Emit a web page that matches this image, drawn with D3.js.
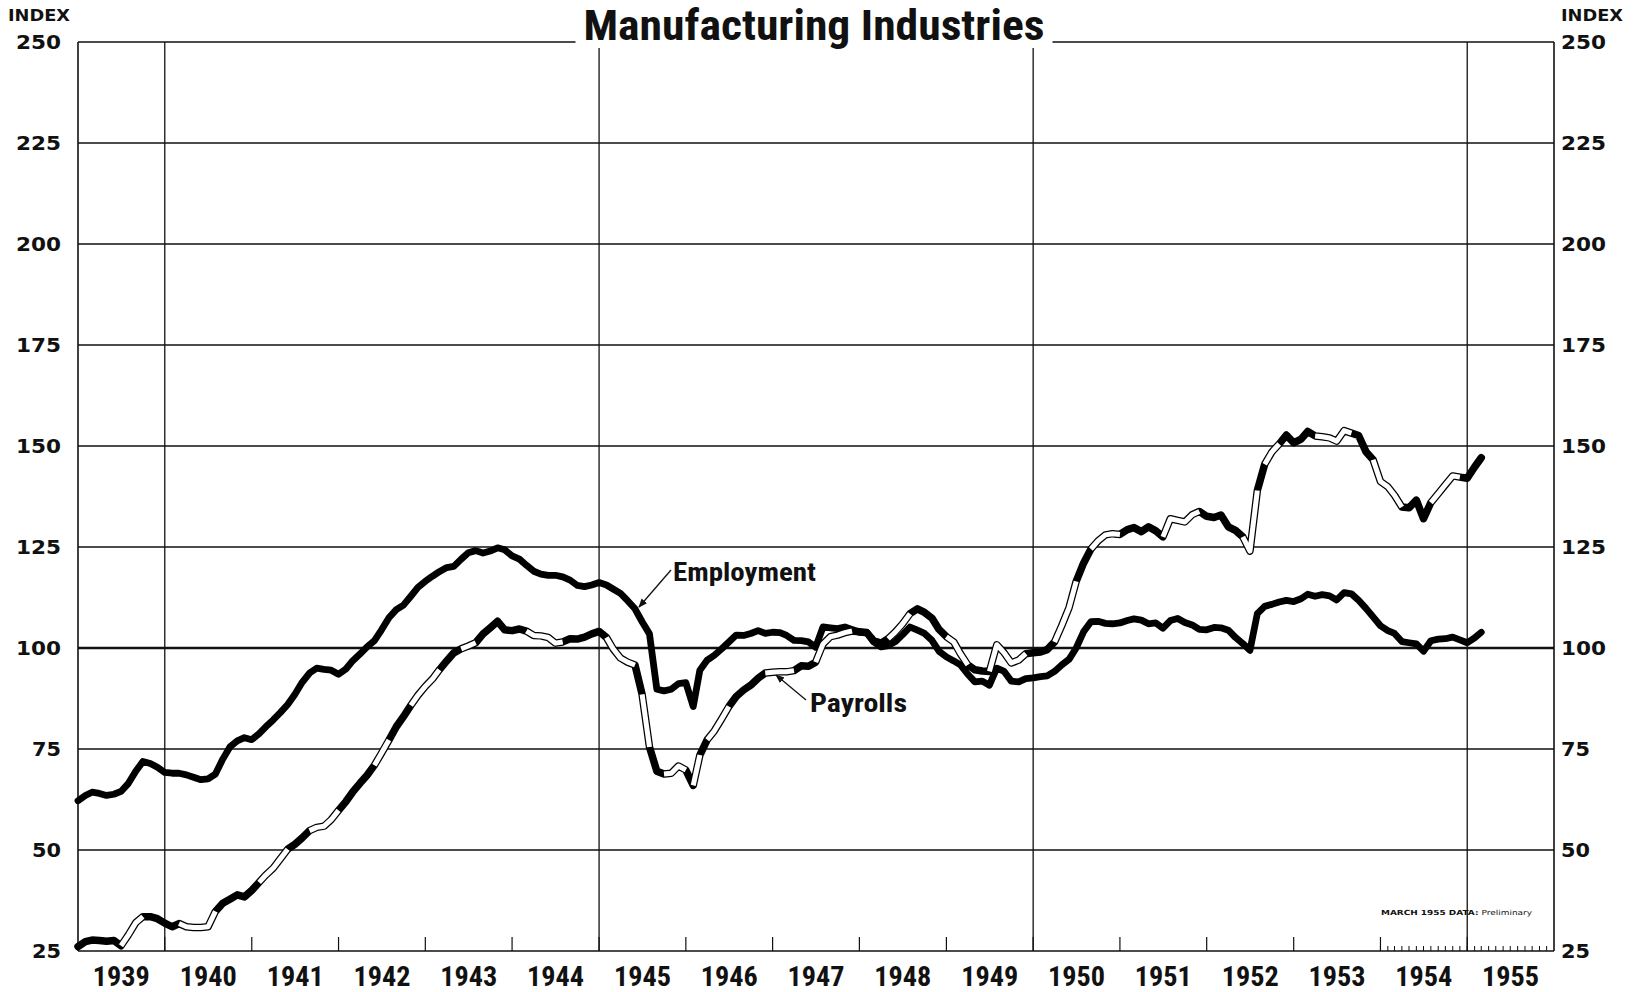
<!DOCTYPE html>
<html>
<head>
<meta charset="utf-8">
<script src="https://cdn.jsdelivr.net/npm/d3@7"></script>
<style>
  body { margin: 0; background: #fff; }
  svg { display: block; }
  .num { font-family: "DejaVu Sans", "Liberation Sans", sans-serif; font-weight: bold; fill: #111; }
  .cond { font-family: "Roboto Condensed", "DejaVu Sans Condensed", "Liberation Sans Narrow", Roboto, sans-serif; font-weight: bold; fill: #111; }
</style>
</head>
<body>
<svg id="chart"></svg>
<script>
// monthly index values, Jan 1939 .. Mar 1955
const startYear = 1939;
const yearLabels = d3.range(1939, 1956);
const yTicks = [25, 50, 75, 100, 125, 150, 175, 200, 225, 250];

const employment = [
  62.2, 63.5, 64.3, 64.0, 63.5, 63.8, 64.5, 66.5, 69.5, 71.9, 71.4, 70.5,
  69.2, 69.0, 69.0, 68.6, 68.0, 67.4, 67.6, 68.8, 72.5, 75.5, 77.0, 77.8,
  77.3, 78.8, 80.5, 82.2, 84.0, 86.0, 88.5, 91.5, 93.8, 95.0, 94.7, 94.5,
  93.5, 94.8, 96.8, 98.5, 100.3, 101.8, 104.5, 107.5, 109.5, 110.6, 112.8, 115.0,
  116.5, 117.8, 118.9, 119.9, 120.2, 122.0, 123.6, 124.1, 123.5, 124.0, 124.8, 124.3,
  122.8, 122.0, 120.5, 119.0, 118.3, 118.0, 118.0, 117.6, 116.8, 115.5, 115.2, 115.6,
  116.2, 115.6, 114.6, 113.5, 111.7, 109.7, 106.5, 103.5, 89.8, 89.4, 89.8, 91.2,
  91.4, 85.5, 94.5, 97.0, 98.2, 99.8, 101.5, 103.2, 103.1, 103.6, 104.3, 103.6,
  103.9, 103.8, 103.1, 101.9, 101.8, 101.5, 100.2, 105.2, 105.0, 104.8, 105.2, 104.6,
  103.9, 103.9, 101.5, 100.3, 100.6, 101.6, 103.3, 105.2, 104.4, 103.6, 101.9, 99.2,
  97.8, 96.8, 95.8, 93.5, 91.6, 91.8, 90.8, 95.0, 94.2, 91.8, 91.6, 92.4,
  92.6, 92.9, 93.1, 94.2, 95.8, 97.2, 100.0, 104.0, 106.5, 106.6, 106.1, 106.0,
  106.2, 106.8, 107.2, 106.9, 106.0, 106.2, 104.9, 106.8, 107.3, 106.3, 105.7, 104.6,
  104.5, 105.1, 105.0, 104.4, 102.6, 101.1, 99.4, 108.5, 110.3, 110.8, 111.4, 111.8,
  111.5, 112.2, 113.3, 112.8, 113.2, 112.9, 111.9, 113.7, 113.4, 111.8, 109.8, 107.7,
  105.5, 104.3, 103.6, 101.6, 101.3, 101.0, 99.2, 101.8, 102.2, 102.3, 102.7, 102.0,
  101.3, 102.5, 103.9
];

const payrolls = [
  26.1, 27.3, 27.7, 27.6, 27.4, 27.6, 26.3, 29.0, 32.0, 33.5, 33.5, 33.0,
  31.9, 31.0, 31.8, 31.0, 30.8, 30.8, 31.0, 34.8, 36.8, 37.8, 38.9, 38.4,
  40.0, 42.0, 43.8, 45.5, 47.8, 50.2, 51.4, 53.0, 54.8, 55.6, 55.9, 57.5,
  59.8, 62.0, 64.3, 66.5, 68.5, 71.0, 74.0, 77.2, 80.5, 83.0, 85.8, 88.3,
  90.5, 92.4, 94.6, 96.8, 98.8, 99.8, 100.5, 101.3, 103.5, 105.0, 106.6, 104.5,
  104.3, 104.7, 104.2, 103.1, 103.0, 102.6, 101.2, 101.5, 102.3, 102.2, 102.7, 103.5,
  104.1, 102.6, 99.8, 97.5, 96.5, 95.8, 88.5, 75.5, 69.5, 68.8, 69.0, 70.8,
  69.8, 66.0, 73.5, 77.3, 79.5, 82.5, 85.5, 88.0, 89.6, 90.8, 92.5, 93.8,
  94.0, 94.1, 94.1, 94.4, 95.6, 95.5, 96.5, 101.0, 102.8, 103.2, 103.8, 104.2,
  104.0, 103.8, 101.8, 101.2, 102.3, 104.0, 106.0, 108.5, 109.7, 108.8, 107.4, 104.6,
  102.8, 101.5, 98.6, 95.8, 94.6, 94.3, 94.2, 100.8, 98.8, 96.3, 97.0, 98.6,
  98.8, 99.0, 99.6, 101.5, 105.5, 110.0, 116.5, 121.0, 124.5, 126.5, 128.0, 128.3,
  128.1, 129.3, 129.8, 128.8, 130.0, 129.0, 127.5, 132.0, 131.6, 131.2, 133.0, 133.8,
  132.6, 132.3, 132.9, 130.0, 129.1, 127.5, 124.0, 139.0, 145.5, 148.5, 150.5, 152.7,
  150.8, 151.7, 153.6, 152.5, 152.3, 152.0, 151.2, 153.8, 153.2, 152.6, 148.6, 146.6,
  141.2, 139.9, 137.8, 134.9, 134.7, 136.6, 132.0, 136.0, 138.2, 140.4, 142.6, 142.3,
  142.0, 144.8, 147.1
];

// month ranges where the payroll line is drawn hollow
const payrollHollow = [[6,9],[14,19],[25,29],[32,36],[41,43],[46,50],[53,55],[62,67],[73,77],[78,79],
  [81,84],[85,86],[87,90],[95,99],[102,107],[112,115],[120,123],[126,131],[135,138],[140,144],
  [150,155],[161,163],[164,166],[171,176],[179,183],[187,191]];

const W = 1643, H = 992;
const margin = {top: 42, right: 89, bottom: 41, left: 78};
const width = W - margin.left - margin.right;
const height = H - margin.top - margin.bottom;

const svg = d3.select('#chart').attr('width', W).attr('height', H);
const chart = svg.append('g').attr('transform', `translate(${margin.left}, ${margin.top})`);

const month = i => new Date(startYear, i, 1);

const x = d3.scaleTime()
  .domain([new Date(1939, 0, 1), new Date(1956, 0, 1)])
  .range([0, width]);

const y = d3.scaleLinear()
  .domain([25, 250])
  .range([height, 0]);

// horizontal grid
chart.append('g')
  .selectAll('line')
  .data(yTicks)
  .enter().append('line')
    .attr('x1', 0).attr('x2', width)
    .attr('y1', d => y(d)).attr('y2', d => y(d))
    .attr('stroke', '#111')
    .attr('stroke-width', d => d === 100 ? 2.6 : 1.3);

// vertical lines: borders + every five years
chart.append('g')
  .selectAll('line')
  .data([1939, 1940, 1945, 1950, 1955, 1956])
  .enter().append('line')
    .attr('x1', d => x(new Date(d, 0, 1))).attr('x2', d => x(new Date(d, 0, 1)))
    .attr('y1', 0).attr('y2', height)
    .attr('stroke', '#111')
    .attr('stroke-width', d => (d === 1939 || d === 1956) ? 1.6 : 1.3);

// year ticks along bottom
chart.append('g')
  .selectAll('line')
  .data(d3.range(1940, 1956))
  .enter().append('line')
    .attr('x1', d => x(new Date(d, 0, 1))).attr('x2', d => x(new Date(d, 0, 1)))
    .attr('y1', height).attr('y2', height - 14)
    .attr('stroke', '#111').attr('stroke-width', 1.2);

// monthly ticks 1954-55
chart.append('g')
  .selectAll('line')
  .data(d3.timeMonth.range(new Date(1954, 0, 1), new Date(1956, 0, 1)))
  .enter().append('line')
    .attr('x1', d => x(d)).attr('x2', d => x(d))
    .attr('y1', height).attr('y2', height - 5)
    .attr('stroke', '#111').attr('stroke-width', 1);

// title with white backing over the top border
const titleW = 461;
chart.append('rect')
  .attr('x', width / 2 - titleW / 2 - 10)
  .attr('y', -8)
  .attr('width', titleW + 16)
  .attr('height', 14)
  .attr('fill', '#fff');

svg.append('text')
  .attr('class', 'cond')
  .attr('x', margin.left + width / 2 - 2)
  .attr('y', 40)
  .attr('text-anchor', 'middle')
  .attr('font-size', 42)
  .attr('textLength', titleW)
  .attr('lengthAdjust', 'spacingAndGlyphs')
  .text('Manufacturing Industries');

// y labels both sides
['left', 'right'].forEach(side => {
  const g = svg.append('g');
  g.selectAll('text.val')
    .data(yTicks)
    .enter().append('text')
      .attr('class', 'num val')
      .attr('x', side === 'left' ? 61 : margin.left + width + 7)
      .attr('y', d => margin.top + y(d) + 7)
      .attr('text-anchor', side === 'left' ? 'end' : 'start')
      .attr('font-size', 19)
      .attr('textLength', d => String(d).length === 3 ? 45 : 29)
      .attr('lengthAdjust', 'spacingAndGlyphs')
      .text(d => d);
  g.append('text')
    .attr('class', 'num')
    .attr('x', side === 'left' ? 8 : margin.left + width + 7)
    .attr('y', 21)
    .attr('font-size', 16)
    .attr('textLength', 62)
    .attr('lengthAdjust', 'spacingAndGlyphs')
    .text('INDEX');
});

// year labels
svg.append('g')
  .selectAll('text')
  .data(yearLabels)
  .enter().append('text')
    .attr('class', 'cond')
    .attr('x', d => margin.left + (x(new Date(d, 0, 1)) + x(new Date(d + 1, 0, 1))) / 2)
    .attr('y', 986)
    .attr('text-anchor', 'middle')
    .attr('font-size', 28)
    .attr('textLength', 57)
    .attr('lengthAdjust', 'spacingAndGlyphs')
    .text(d => d);

// lines
const line = d3.line()
  .x(d => x(month(d.i)))
  .y(d => y(d.v))
  .curve(d3.curveLinear);

const empData = employment.map((v, i) => ({i, v}));
const payData = payrolls.map((v, i) => ({i, v}));

chart.append('path')
  .datum(empData)
  .attr('d', line)
  .attr('fill', 'none')
  .attr('stroke', '#000')
  .attr('stroke-width', 6.8)
  .attr('stroke-linejoin', 'round')
  .attr('stroke-linecap', 'round');

chart.append('path')
  .datum(payData)
  .attr('d', line)
  .attr('fill', 'none')
  .attr('stroke', '#000')
  .attr('stroke-width', 7.5)
  .attr('stroke-linejoin', 'round')
  .attr('stroke-linecap', 'round');

chart.append('g')
  .selectAll('path')
  .data(payrollHollow)
  .enter().append('path')
    .attr('d', r => line(payData.slice(r[0], r[1] + 1)))
    .attr('fill', 'none')
    .attr('stroke', '#fff')
    .attr('stroke-width', 5)
    .attr('stroke-linejoin', 'round');

// labels with arrows
const defs = svg.append('defs');
defs.append('marker')
  .attr('id', 'arrow')
  .attr('viewBox', '0 0 10 10')
  .attr('refX', 9).attr('refY', 5)
  .attr('markerWidth', 9).attr('markerHeight', 9)
  .attr('markerUnits', 'userSpaceOnUse')
  .attr('orient', 'auto')
  .append('path')
    .attr('d', 'M0,1 L10,5 L0,9 Z')
    .attr('fill', '#111');

const notes = [
  {text: 'Employment', tx: 673, ty: 581, w: 143, from: [671, 570], to: [639, 607]},
  {text: 'Payrolls', tx: 810, ty: 712, w: 97, from: [806, 700], to: [776, 675]}
];

notes.forEach(n => {
  svg.append('text')
    .attr('class', 'cond')
    .attr('x', n.tx).attr('y', n.ty)
    .attr('font-size', 25)
    .attr('textLength', n.w)
    .attr('lengthAdjust', 'spacingAndGlyphs')
    .text(n.text);
  svg.append('line')
    .attr('x1', n.from[0]).attr('y1', n.from[1])
    .attr('x2', n.to[0]).attr('y2', n.to[1])
    .attr('stroke', '#111').attr('stroke-width', 1.3)
    .attr('marker-end', 'url(#arrow)');
});

// footnote
const foot = svg.append('text')
  .attr('x', 1381).attr('y', 915)
  .attr('font-family', '"DejaVu Sans", sans-serif')
  .attr('font-size', 7)
  .attr('fill', '#111')
  .attr('textLength', 151)
  .attr('lengthAdjust', 'spacingAndGlyphs');
foot.append('tspan').attr('font-weight', 'bold').text('MARCH 1955 DATA: ');
foot.append('tspan').text('Preliminary');
</script>
</body>
</html>
